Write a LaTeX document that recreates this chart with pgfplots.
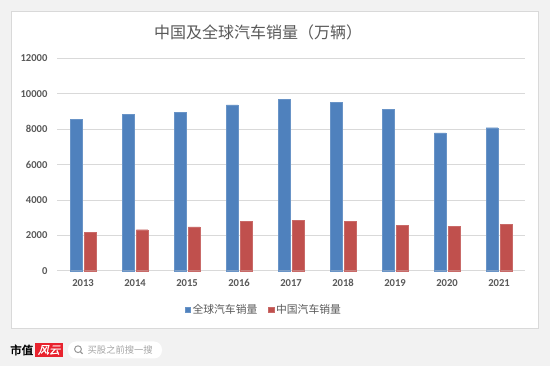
\documentclass[border=0pt]{standalone}
\usepackage{pgfplots}
\pgfplotsset{compat=1.18}
\usepackage{fontspec}
\setmainfont{Carlito}
\newfontfamily\cjk{Noto Sans CJK SC}
\newfontfamily\cjkb[FakeBold=2.5]{Noto Sans CJK SC}
\newfontfamily\cjksl[FakeSlant=0.25,FakeBold=1.5]{Noto Sans CJK SC}
\definecolor{bgcol}{HTML}{F2F2F2}
\definecolor{panelborder}{HTML}{D9D9D9}
\definecolor{gridc}{HTML}{D9D9D9}
\definecolor{txt}{HTML}{595959}
\definecolor{bluebar}{HTML}{4F81BD}
\definecolor{redbar}{HTML}{C0504D}
\definecolor{logored}{HTML}{E8232E}
\begin{document}
\begin{tikzpicture}
% background card
\fill[bgcol] (0bp,0bp) rectangle (550bp,366bp);
\filldraw[fill=white,draw=panelborder,line width=0.8pt] (11bp,38bp) rectangle (538bp,355bp);
% title
\node[text=txt,font=\cjk\fontsize{16bp}{18bp}\selectfont] at (258bp,334bp) {中国及全球汽车销量（万辆）};
\begin{axis}[
  at={(57bp,95.3bp)}, anchor=south west,
  scale only axis, width=468bp, height=212.4bp,
  xmin=-0.5, xmax=8.5, ymin=0, ymax=12000,
  ytick={0,2000,4000,6000,8000,10000,12000},
  scaled y ticks=false,
  xtick={0,...,8},
  xticklabels={2013,2014,2015,2016,2017,2018,2019,2020,2021},
  major tick length=0pt,
  axis line style={draw=none},
  ymajorgrids, grid style={gridc,line width=0.8pt},
  /pgf/number format/1000 sep={},
  /pgf/number format/assume math mode=true,
  ticklabel style={text=txt,font=\bfseries\fontsize{10.6bp}{12bp}\selectfont},
  yticklabel style={xshift=-6bp},
  xticklabel style={yshift=-5bp},
  ybar, bar width=11.5bp,
  legend style={at={(0.442,-0.185)}, anchor=center, draw=none, fill=none,
    legend columns=2, font=\cjk\fontsize{10.8bp}{12bp}\selectfont, text=txt,
    /tikz/every even column/.append style={column sep=9bp},
    inner sep=0pt},
  legend image code/.code={\fill[#1] (0bp,-2.7bp) rectangle (5.4bp,2.7bp);},
  clip=false,
]
\addplot[fill=bluebar, draw=bluebar!85!white, line width=0.4pt, bar shift=-7bp]
  coordinates {(0,8554) (1,8836) (2,8949) (3,9362) (4,9661) (5,9492) (6,9119) (7,7780) (8,8079)};
\addplot[fill=redbar, draw=redbar!85!white, line width=0.4pt, bar shift=7bp]
  coordinates {(0,2186) (1,2316) (2,2469) (3,2791) (4,2864) (5,2791) (6,2565) (7,2525) (8,2638)};
\legend{全球汽车销量,中国汽车销量}
\end{axis}
% bottom branding
\node[anchor=west,inner sep=0pt,text=black,font=\cjkb\fontsize{11.5bp}{13bp}\selectfont] at (10bp,16bp) {市值};
\fill[logored] (35bp,9bp) rectangle (63bp,23bp);
\node[inner sep=0pt,text=white,font=\cjksl\fontsize{11bp}{12bp}\selectfont] at (49bp,16bp) {风云};
\fill[white,rounded corners=8bp] (68bp,7.5bp) rectangle (162bp,24.5bp);
\draw[gray!80,line width=1pt] (78bp,16.8bp) circle (3.4bp);
\draw[gray!80,line width=1.2pt] (80.4bp,14.4bp) -- (82.6bp,12.2bp);
\node[anchor=west,inner sep=0pt,text=black!35,font=\cjk\fontsize{9.3bp}{11bp}\selectfont] at (87.5bp,16bp) {买股之前搜一搜};
\end{tikzpicture}
\end{document}
